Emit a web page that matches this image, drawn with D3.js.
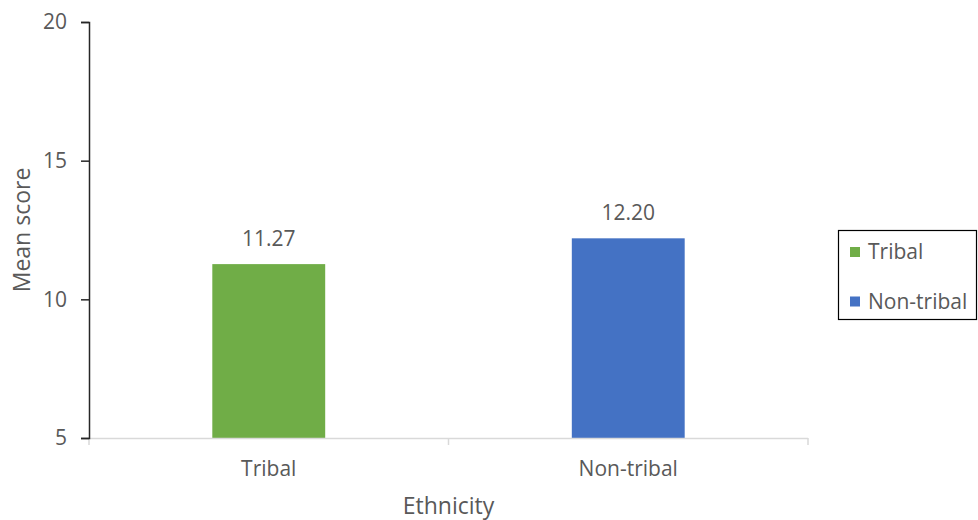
<!DOCTYPE html>
<html lang="en">
<head>
  <meta charset="UTF-8">
  <title>Mean score by ethnicity</title>
  <script src="https://d3js.org/d3.v7.min.js"></script>
  <style>
    body {
      margin: 0;
      padding: 0;
      background: #fff;
      font-family: "Open Sans", Arial, sans-serif;
    }
    svg text {
      fill: #595959;
    }
  </style>
</head>
<body>
  <div id="chart"></div>

  <script>
    const categories = ["Tribal", "Non-tribal"];
    const meanScores = [11.27, 12.20];
    const barColors = ["#70ad47", "#4472c4"];
    const yTicks = [5, 10, 15, 20];

    const W = 978, H = 520;
    const plot = { left: 89, right: 808, top: 22, bottom: 438 };

    const svg = d3.select("#chart")
                  .append("svg")
                  .attr("width", W)
                  .attr("height", H);

    const x = d3.scaleBand()
                .domain(categories)
                .range([plot.left, plot.right])
                .paddingInner(0.686)
                .paddingOuter(0.343);

    const y = d3.scaleLinear()
                .domain([5, 20])
                .range([plot.bottom, plot.top]);

    // bars
    svg.selectAll(".bar")
       .data(categories)
       .enter()
       .append("rect")
       .attr("class", "bar")
       .attr("x", d => x(d))
       .attr("width", x.bandwidth())
       .attr("y", (d, i) => y(meanScores[i]))
       .attr("height", (d, i) => y(5) - y(meanScores[i]))
       .attr("fill", (d, i) => barColors[i]);

    // value labels
    svg.selectAll(".val")
       .data(categories)
       .enter()
       .append("text")
       .attr("class", "val")
       .attr("x", d => x(d) + x.bandwidth() / 2)
       .attr("y", (d, i) => y(meanScores[i]) - 18)
       .attr("text-anchor", "middle")
       .style("font-size", "21px")
       .text((d, i) => meanScores[i].toFixed(2));

    // x axis (light grey line with category dividers)
    const xAxis = svg.append("g");
    xAxis.append("line")
         .attr("x1", plot.left).attr("x2", plot.right)
         .attr("y1", plot.bottom + 0.5).attr("y2", plot.bottom + 0.5)
         .attr("stroke", "#d9d9d9").attr("stroke-width", 1.5);
    const step = x.step();
    d3.range(categories.length + 1).forEach(i => {
      const xx = plot.left + i * step;
      xAxis.append("line")
           .attr("x1", xx).attr("x2", xx)
           .attr("y1", plot.bottom).attr("y2", plot.bottom + 7)
           .attr("stroke", "#d9d9d9").attr("stroke-width", 1.5);
    });
    xAxis.selectAll(".cat")
         .data(categories)
         .enter()
         .append("text")
         .attr("class", "cat")
         .attr("x", d => x(d) + x.bandwidth() / 2)
         .attr("y", plot.bottom + 38)
         .attr("text-anchor", "middle")
         .style("font-size", "21px")
         .text(d => d);

    // y axis
    const yAxis = svg.append("g")
       .attr("transform", `translate(${plot.left},0)`)
       .call(d3.axisLeft(y).tickValues(yTicks).tickSize(8).tickPadding(14));
    yAxis.select(".domain").attr("stroke", "#262626").attr("stroke-width", 1.5);
    yAxis.selectAll(".tick line").attr("stroke", "#262626").attr("stroke-width", 1.5);
    yAxis.selectAll(".tick text")
         .style("font-size", "21px")
         .style("font-family", "'Open Sans', Arial, sans-serif")
         .attr("fill", "#595959");

    // axis titles
    svg.append("text")
       .attr("transform", `translate(30, ${(plot.top + plot.bottom) / 2}) rotate(-90)`)
       .attr("text-anchor", "middle")
       .style("font-size", "23px")
       .text("Mean score");

    svg.append("text")
       .attr("x", (plot.left + plot.right) / 2)
       .attr("y", 514)
       .attr("text-anchor", "middle")
       .style("font-size", "23px")
       .text("Ethnicity");

    // legend
    const legend = svg.append("g");
    legend.append("rect")
          .attr("x", 838.5).attr("y", 230.5)
          .attr("width", 138).attr("height", 89)
          .attr("fill", "#fff")
          .attr("stroke", "#000").attr("stroke-width", 1.2);
    categories.forEach((c, i) => {
      const ly = 247 + i * 49.5;
      legend.append("rect")
            .attr("x", 850).attr("y", ly)
            .attr("width", 10).attr("height", 10)
            .attr("fill", barColors[i]);
      legend.append("text")
            .attr("x", 868).attr("y", ly + 12)
            .style("font-size", "21px")
            .text(c);
    });
  </script>
</body>
</html>
